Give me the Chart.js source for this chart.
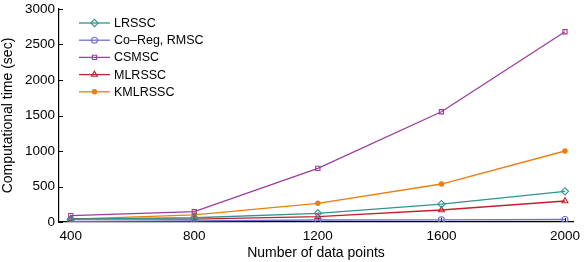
<!DOCTYPE html>
<html>
<head>
<meta charset="utf-8">
<script src="https://cdn.jsdelivr.net/npm/chart.js@4"></script>
<style>
  html, body { margin: 0; padding: 0; background: #fff; }
  #wrap { width: 585px; height: 262px; }
</style>
</head>
<body>
<div id="wrap"><canvas id="chart" width="585" height="262"></canvas></div>
<script>
// data points (x axis)
const dataPoints = [400, 800, 1200, 1600, 2000];
const xTicks = [400, 800, 1200, 1600, 2000];
const yTicks = [0, 500, 1000, 1500, 2000, 2500, 3000];

// computational time (sec)
const lrssc   = [40, 60, 122, 253, 432];
const coReg   = [10, 15, 28, 30, 35];
const csmsc   = [90, 145, 756, 1553, 2680];
const mlrssc  = [45, 40, 75, 169, 296];
const kmlrssc = [40, 100, 263, 535, 1000];

const FONT = 'Liberation Sans, Arial, sans-serif';

function toXY(vals) {
    return vals.map((v, i) => ({ x: dataPoints[i], y: v }));
}

function series(label, vals, color, style, radius, filled) {
    return {
        label: label,
        data: toXY(vals),
        borderColor: color,
        backgroundColor: filled ? color : 'rgba(255,255,255,0)',
        pointBorderColor: color,
        pointBackgroundColor: filled ? color : 'rgba(255,255,255,0)',
        pointStyle: style,
        pointRadius: radius,
        pointBorderWidth: 1.1,
        borderWidth: 1.3,
        tension: 0
    };
}

// matlab-like inward tick marks
const inwardTicks = {
    id: 'inwardTicks',
    beforeDatasetsDraw(chart) {
        const ctx = chart.ctx;
        const xs = chart.scales.x, ys = chart.scales.y;
        const area = chart.chartArea;
        ctx.save();
        ctx.strokeStyle = '#000';
        ctx.lineWidth = 1;
        ctx.beginPath();
        yTicks.forEach(v => {
            const py = Math.round(ys.getPixelForValue(v)) + 0.5;
            ctx.moveTo(area.left, py);
            ctx.lineTo(area.left + 4, py);
        });
        xTicks.forEach(v => {
            const px = Math.round(xs.getPixelForValue(v)) + 0.5;
            ctx.moveTo(px, area.bottom);
            ctx.lineTo(px, area.bottom - 4);
        });
        ctx.stroke();
        ctx.restore();
    }
};

// legend drawn inside the plot area, matlab style (line + marker)
const insideLegend = {
    id: 'insideLegend',
    afterDatasetsDraw(chart) {
        const ctx = chart.ctx;
        const x0 = 79, x1 = 110, rowY = 23, rowH = 17.2;
        ctx.save();
        ctx.font = '12.5px ' + FONT;
        ctx.textBaseline = 'middle';
        chart.data.datasets.forEach((ds, i) => {
            const y = rowY + i * rowH;
            ctx.strokeStyle = ds.borderColor;
            ctx.lineWidth = ds.borderWidth;
            ctx.beginPath();
            ctx.moveTo(x0, y);
            ctx.lineTo(x1, y);
            ctx.stroke();
            ctx.fillStyle = ds.pointBackgroundColor;
            ctx.lineWidth = ds.pointBorderWidth;
            Chart.helpers.drawPoint(ctx, {
                pointStyle: ds.pointStyle,
                radius: ds.pointRadius,
                borderWidth: ds.pointBorderWidth
            }, (x0 + x1) / 2, y);
            ctx.fillStyle = '#000';
            ctx.fillText(ds.label, 114, y + 0.5);
        });
        ctx.restore();
    }
};

new Chart(document.getElementById('chart'), {
    type: 'line',
    data: {
        datasets: [
            series('LRSSC', lrssc, '#2e968c', 'rectRot', 3.6, false),
            series('Co\u2013Reg, RMSC', coReg, '#6e6ed2', 'circle', 3, false),
            series('CSMSC', csmsc, '#9c3c9c', 'rect', 3, false),
            series('MLRSSC', mlrssc, '#c4202c', 'triangle', 3.4, false),
            series('KMLRSSC', kmlrssc, '#f07d0a', 'circle', 2.2, true)
        ]
    },
    options: {
        responsive: false,
        animation: false,
        layout: { padding: { top: 9, right: 12, left: 0, bottom: 0 } },
        plugins: {
            legend: { display: false },
            tooltip: { enabled: false }
        },
        scales: {
            x: {
                type: 'linear',
                min: 362,
                max: 2026,
                afterBuildTicks: (scale) => { scale.ticks = xTicks.map(v => ({ value: v })); },
                afterFit: (scale) => {
                    scale.height = 40;
                    scale.paddingLeft = 0;
                    scale.paddingRight = 0;
                },
                grid: { display: false, drawTicks: false },
                border: { display: true, color: '#000', width: 1.2 },
                ticks: {
                    color: '#000',
                    font: { family: FONT, size: 13.5 },
                    padding: 6,
                    maxRotation: 0,
                    callback: (v) => String(v)
                },
                title: {
                    display: true,
                    text: 'Number of data points',
                    color: '#000',
                    font: { family: FONT, size: 14 },
                    padding: { top: 0, bottom: 0 }
                }
            },
            y: {
                min: 0,
                max: 3000,
                afterBuildTicks: (scale) => { scale.ticks = yTicks.map(v => ({ value: v })); },
                afterFit: (scale) => {
                    scale.width = 59;
                    scale.paddingTop = 0;
                    scale.paddingBottom = 0;
                },
                grid: { display: false, drawTicks: false },
                border: { display: true, color: '#000', width: 1.2 },
                ticks: {
                    color: '#000',
                    font: { family: FONT, size: 13.5 },
                    padding: 4,
                    callback: (v) => String(v)
                },
                title: {
                    display: true,
                    text: 'Computational time (sec)',
                    color: '#000',
                    font: { family: FONT, size: 14 },
                    padding: { top: 0, bottom: 1 }
                }
            }
        }
    },
    plugins: [inwardTicks, insideLegend]
});
</script>
</body>
</html>
